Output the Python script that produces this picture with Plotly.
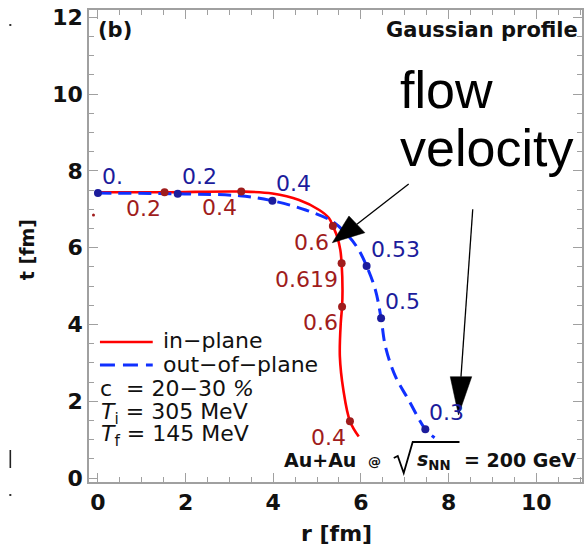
import plotly.graph_objects as go

# Freeze-out surface, in-plane direction: radius r [fm] vs time t [fm]
in_r = [0.0, 1.52, 3.27, 3.98, 4.59, 5.05, 5.27, 5.36, 5.46, 5.53, 5.56,
        5.58, 5.57, 5.54, 5.52, 5.60, 5.75, 5.95]
in_t = [7.44, 7.44, 7.46, 7.41, 7.24, 6.98, 6.77, 6.56, 6.28, 5.94, 5.59,
        4.89, 4.46, 4.03, 3.16, 2.29, 1.48, 1.08]

# Freeze-out surface, out-of-plane direction
out_r = [0.0, 1.82, 3.23, 3.98, 4.74, 5.35, 5.73, 5.95, 6.13, 6.33, 6.46,
         6.56, 6.79, 7.09, 7.47, 7.68]
out_t = [7.42, 7.40, 7.35, 7.22, 6.98, 6.68, 6.28, 5.94, 5.52, 4.90, 4.16,
         3.42, 2.64, 2.03, 1.27, 1.05]

# Points where the flow velocity is quoted
in_pt_r = [1.52, 3.27, 5.36, 5.56, 5.57, 5.75]
in_pt_t = [7.44, 7.46, 6.56, 5.59, 4.46, 1.48]
in_vel = ["0.2", "0.4", "0.6", "0.619", "0.6", "0.4"]

out_pt_r = [0.0, 1.82, 3.98, 6.13, 6.46, 7.47]
out_pt_t = [7.42, 7.40, 7.22, 5.52, 4.16, 1.27]
out_vel = ["0.", "0.2", "0.4", "0.53", "0.5", "0.3"]

x_ticks = [0, 2, 4, 6, 8, 10]
y_ticks = [0, 2, 4, 6, 8, 10, 12]

W, H = 586, 546
ML, MR, MT, MB = 89, 2, 10, 64
PW, PH = W - ML - MR, H - MT - MB

FONT = "DejaVu Sans"
RED, BLUE = "#ff0000", "#1030ff"
RED_DK, BLUE_DK = "#a01c1c", "#1c1c9c"
AXIS_GREY = "#a0a0a0"


def px(x):
    """Horizontal pixel position -> paper fraction."""
    return (x - ML) / PW


def py(y):
    """Vertical pixel position -> paper fraction."""
    return (MT + PH - y) / PH


fig = go.Figure()

fig.add_trace(go.Scatter(x=in_r, y=in_t, mode="lines", line_shape="spline",
                         line=dict(color=RED, width=2.6), showlegend=False,
                         hoverinfo="skip"))
fig.add_trace(go.Scatter(x=out_r, y=out_t, mode="lines", line_shape="spline",
                         line=dict(color=BLUE, width=3, dash="13px,7px"),
                         showlegend=False, hoverinfo="skip"))
fig.add_trace(go.Scatter(x=in_pt_r, y=in_pt_t, mode="markers",
                         marker=dict(color=RED_DK, size=8), showlegend=False))
fig.add_trace(go.Scatter(x=out_pt_r, y=out_pt_t, mode="markers",
                         marker=dict(color=BLUE_DK, size=8), showlegend=False))

ann = []

# velocity labels
for r, t, v in zip(out_pt_r, out_pt_t, out_vel):
    ann.append(dict(x=r, y=t, xref="x", yref="y", text=v, showarrow=False,
                    xanchor="left", yanchor="middle", xshift=2, yshift=17,
                    font=dict(family=FONT, size=22, color=BLUE_DK)))
for r, t, v in zip(in_pt_r, in_pt_t, in_vel):
    ann.append(dict(x=r, y=t, xref="x", yref="y", text=v, showarrow=False,
                    xanchor="right", yanchor="middle", xshift=-2, yshift=-16,
                    font=dict(family=FONT, size=22, color=RED_DK)))


def label(text, x, y, size=22, xanchor="left", yanchor="middle", bold=False,
          family=FONT, color="#111111", angle=0):
    ann.append(dict(x=px(x), y=py(y), xref="paper", yref="paper", text=text,
                    showarrow=False, xanchor=xanchor, yanchor=yanchor,
                    textangle=angle,
                    font=dict(family=family, size=size, color=color,
                              weight="bold" if bold else "normal")))


label("(b)", 115, 30, size=21, xanchor="center", bold=True)
label("Gaussian profile", 582, 30, size=21, xanchor="right", bold=True)
label("flow", 399, 90, size=52, family="Liberation Sans, Arial", color="#000000")
label("velocity", 399, 148, size=52, family="Liberation Sans, Arial", color="#000000")

# legend block
label("in\u2212plane", 161, 340)
label("out\u2212of\u2212plane", 161, 364)
label("c&#160;&#160;= 20\u221230 <i>%</i>", 98, 388)
label("<i>T</i><sub>i</sub> = 305 MeV", 99, 413)
label("<i>T</i><sub>f</sub> = 145 MeV", 99, 435)

# collision system
label("Au+Au", 283, 460, size=19, bold=True)
label("@", 367, 461, size=13, bold=True)
label("<i>s</i><sub>NN</sub>", 416, 460, size=19, bold=True)
label("= 200 GeV", 580, 460, size=19, xanchor="right", bold=True)

# axis titles
label("r [fm]", 338, 533, size=22, xanchor="center", bold=True)
label("t [fm]", 27, 250, size=19, xanchor="center", bold=True, angle=-90)

shapes = []


def seg(x0, y0, x1, y1, color, width, dash="solid"):
    shapes.append(dict(type="line", xref="paper", yref="paper",
                       x0=px(x0), y0=py(y0), x1=px(x1), y1=py(y1),
                       line=dict(color=color, width=width, dash=dash)))


def path(points, fill=None, color="#000000", width=1.5):
    d = "M " + " L ".join(f"{px(a):.5f},{py(b):.5f}" for a, b in points)
    if fill:
        d += " Z"
    shapes.append(dict(type="path", xref="paper", yref="paper", path=d,
                       fillcolor=fill if fill else "rgba(0,0,0,0)",
                       line=dict(color=color, width=width)))


# legend samples
seg(100, 342, 153, 342, RED, 2.6)
seg(100, 365, 153, 365, BLUE, 3, dash="15px,8px")

# square-root sign with its bar
path([(395, 458), (399, 456), (405, 473), (414, 442), (461, 442)], width=1.8)

# arrows pointing at the two curves
seg(410, 184, 358, 224.3, "#000000", 1.3)
path([(333.3, 242.7), (350, 216), (366, 232.7)], fill="#000000", width=0.5)
seg(474.3, 209.3, 462.5, 376.7, "#000000", 1.3)
path([(460, 415), (451.7, 376.7), (473.3, 376.7)], fill="#000000", width=0.5)

# small marks at the left edge
shapes.append(dict(type="circle", xref="paper", yref="paper",
                   x0=px(92), x1=px(95), y0=py(216.5), y1=py(213.5),
                   fillcolor=RED_DK, line=dict(width=0)))
for cy in (25, 495):
    shapes.append(dict(type="rect", xref="paper", yref="paper",
                       x0=px(9), x1=px(11), y0=py(cy + 1), y1=py(cy - 1),
                       fillcolor="#333333", line=dict(width=0)))
seg(10, 450, 10, 468, "#222222", 1.6)

axis_common = dict(showline=True, linecolor=AXIS_GREY, linewidth=1.5,
                   mirror="ticks", ticks="inside", ticklen=9,
                   tickcolor=AXIS_GREY, tickwidth=1.2, showgrid=False,
                   zeroline=False,
                   minor=dict(ticks="inside", dtick=0.5, ticklen=5,
                              tickcolor=AXIS_GREY, tickwidth=1.2,
                              showgrid=False),
                   tickfont=dict(family=FONT, size=22, color="#111111",
                                 weight="bold"))

fig.update_layout(
    width=W, height=H,
    margin=dict(l=ML, r=MR, t=MT, b=MB),
    paper_bgcolor="white", plot_bgcolor="white",
    xaxis=dict(range=[-0.2045, 11.045], tickvals=x_ticks,
               ticktext=[str(v) for v in x_ticks], **axis_common),
    yaxis=dict(range=[-0.104, 12.1875], tickvals=y_ticks,
               ticktext=[str(v) for v in y_ticks], **axis_common),
    annotations=ann,
    shapes=shapes,
    showlegend=False,
)

fig.write_html("out.html")
